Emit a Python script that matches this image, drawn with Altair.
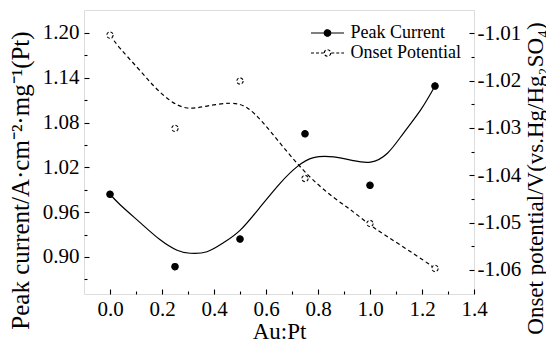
import altair as alt
import pandas as pd

# ---- data ----
ratio = [0.0, 0.25, 0.5, 0.75, 1.0, 1.25]
peak_current = [0.984, 0.887, 0.924, 1.065, 0.996, 1.129]
onset_potential = [-1.0104, -1.0301, -1.0201, -1.0407, -1.0502, -1.0597]

# smooth fitted curves
peak_fit_x = [0.0, 0.039, 0.116, 0.193, 0.258, 0.308, 0.373, 0.436, 0.501, 0.578,
              0.655, 0.720, 0.783, 0.860, 0.937, 1.002, 1.067, 1.129, 1.195, 1.25]
peak_fit_y = [0.984, 0.970, 0.946, 0.923, 0.909, 0.905, 0.907, 0.919, 0.936, 0.967,
              0.999, 1.021, 1.033, 1.034, 1.029, 1.027, 1.039, 1.066, 1.097, 1.129]
onset_fit_x = [0.0, 0.039, 0.104, 0.166, 0.231, 0.297, 0.373, 0.462, 0.528, 0.590,
               0.655, 0.720, 0.783, 0.860, 0.937, 1.013, 1.118, 1.222, 1.25]
onset_fit_y = [-1.0104, -1.0132, -1.0172, -1.0210, -1.0242, -1.0258, -1.0254, -1.0248,
               -1.0258, -1.0290, -1.0333, -1.0375, -1.0411, -1.0447, -1.0478, -1.0510,
               -1.0548, -1.0586, -1.0597]

series_names = ["Peak Current", "Onset Potential"]

x_major = [0.0, 0.2, 0.4, 0.6, 0.8, 1.0, 1.2, 1.4]
x_minor = [0.1, 0.3, 0.5, 0.7, 0.9, 1.1, 1.3]
left_major = [0.90, 0.96, 1.02, 1.08, 1.14, 1.20]
left_minor = [0.87, 0.93, 0.99, 1.05, 1.11, 1.17]
right_major = [-1.06, -1.05, -1.04, -1.03, -1.02, -1.01]
right_minor = [-1.055, -1.045, -1.035, -1.025, -1.015]

X_DOM = [-0.1, 1.4]
L_DOM = [0.8504, 1.2308]
R_DOM = [-1.0651, -1.0051]

FONT = "Liberation Serif"

peak_df = pd.DataFrame({"ratio": ratio, "value": peak_current, "series": series_names[0]})
onset_df = pd.DataFrame({"ratio": ratio, "value": onset_potential, "series": series_names[1]})
peak_fit = pd.DataFrame({"ratio": peak_fit_x, "value": peak_fit_y})
onset_fit = pd.DataFrame({"ratio": onset_fit_x, "value": onset_fit_y})

LEG_PATH = ("M-3.3,0H-0.75M0.75,0H3.3"
            "M0.65,0A0.65,0.65,0,1,1,-0.65,0A0.65,0.65,0,1,1,0.65,0Z")


def make_legend():
    return alt.Legend(title=None, orient="none", legendX=234.5, legendY=14,
                      symbolType=LEG_PATH, symbolSize=100,
                      symbolStrokeColor="black", symbolStrokeWidth=1.2,
                      labelFont=FONT, labelFontSize=18, labelColor="black",
                      labelOffset=14, rowPadding=2)


fill_enc = alt.Fill("series:N",
                    scale=alt.Scale(domain=series_names, range=["black", "white"]),
                    legend=make_legend())
dash_enc = alt.StrokeDash("series:N",
                          scale=alt.Scale(domain=series_names, range=[[1, 0], [3, 2]]),
                          legend=make_legend())


def xscale():
    return alt.Scale(domain=X_DOM, nice=False, zero=False)


main_x_axis = alt.Axis(orient="bottom", values=x_major, format=".1f", ticks=False, tickSize=0,
                       domain=False, grid=False, labelPadding=4, labelFlush=False,
                       labelFont=FONT, labelFontSize=21, labelColor="black",
                       title="Au:Pt", titleFont=FONT, titleFontSize=23,
                       titleFontWeight="normal", titleColor="black",
                       titleBaseline="alphabetic", titleY=44)

left_axis = alt.Axis(orient="left", values=left_major, format=".2f", ticks=False, tickSize=0,
                     domain=False, grid=False, labelPadding=5, labelFlush=False,
                     labelFont=FONT, labelFontSize=21, labelColor="black",
                     title="Peak current/A·cm⁻²·mg⁻¹(Pt)", titleFont=FONT, titleFontSize=25,
                     titleFontWeight="normal", titleColor="black",
                     titleBaseline="alphabetic", titleX=-56, titleY=170, titleAngle=270)

right_axis = alt.Axis(orient="right", values=right_major, ticks=False, tickSize=0,
                      labelExpr="'-' + format(abs(datum.value), '.2f')",
                      domain=False, grid=False, labelPadding=3, labelFlush=False,
                      labelFont=FONT, labelFontSize=21, labelColor="black",
                      title="Onset potential/V(vs.Hg/Hg₂SO₄)", titleFont=FONT, titleFontSize=23,
                      titleFontWeight="normal", titleColor="black",
                      titleBaseline="alphabetic", titleX=68, titleY=168, titleAngle=270)

# ---- peak current layer (left axis) ----
peak_line = alt.Chart(peak_fit).mark_line(color="black", strokeWidth=1.2,
                                          interpolate="natural").encode(
    x=alt.X("ratio:Q", scale=xscale(), axis=main_x_axis),
    y=alt.Y("value:Q", scale=alt.Scale(domain=L_DOM, nice=False, zero=False), axis=left_axis),
)
peak_pts = alt.Chart(peak_df).mark_point(filled=True, shape="circle", size=40, stroke="black",
                                         strokeWidth=1.2, opacity=1).encode(
    x=alt.X("ratio:Q", scale=xscale()),
    y=alt.Y("value:Q", scale=alt.Scale(domain=L_DOM, nice=False, zero=False)),
    fill=fill_enc,
    strokeDash=dash_enc,
)
peak_layer = alt.layer(peak_line, peak_pts)

# ---- onset potential layer (right axis) ----
onset_line = alt.Chart(onset_fit).mark_line(color="black", strokeWidth=1.2, strokeDash=[4, 3],
                                            interpolate="natural").encode(
    x=alt.X("ratio:Q", scale=xscale(), axis=None),
    y=alt.Y("value:Q", scale=alt.Scale(domain=R_DOM, nice=False, zero=False), axis=right_axis),
)
onset_pts = alt.Chart(onset_df).mark_point(filled=True, shape="circle", size=40, stroke="black",
                                           strokeWidth=1.1, opacity=1).encode(
    x=alt.X("ratio:Q", scale=xscale()),
    y=alt.Y("value:Q", scale=alt.Scale(domain=R_DOM, nice=False, zero=False)),
    fill=fill_enc,
    strokeDash=dash_enc,
)
onset_layer = alt.layer(onset_line, onset_pts)


# ---- inward tick axes ----
def tick_axis(orient, values, size, offset):
    return alt.Axis(orient=orient, values=values, ticks=True, tickSize=size, tickColor="black",
                    tickWidth=1.1, offset=offset, labels=False, domain=False, grid=False,
                    title=None)


def tick_layer(data, xvals, xsize, yorient, yvals, ysize, ydom):
    xax = tick_axis("bottom", xvals, xsize, -xsize) if xvals else None
    return alt.Chart(data).mark_point(opacity=0).encode(
        x=alt.X("ratio:Q", scale=xscale(), axis=xax),
        y=alt.Y("value:Q", scale=alt.Scale(domain=ydom, nice=False, zero=False),
                axis=tick_axis(yorient, yvals, ysize, -ysize)),
    )


t1 = tick_layer(peak_df, x_major, 5, "left", left_major, 5, L_DOM)
t2 = tick_layer(peak_df, x_minor, 3, "left", left_minor, 3, L_DOM)
t3 = tick_layer(onset_df, None, 0, "right", right_major, 5, R_DOM)
t4 = tick_layer(onset_df, None, 0, "right", right_minor, 3, R_DOM)

chart = alt.layer(peak_layer, onset_layer, t1, t2, t3, t4).resolve_scale(
    x="independent", y="independent"
).properties(
    width=390, height=284,
    autosize=alt.AutoSizeParams(type="none"),
    padding={"left": 76, "top": 2, "right": 72, "bottom": 48},
).configure_view(
    stroke="black", strokeWidth=1.5
).configure(background="white")

chart.save("out.html", embed_options={"renderer": "svg", "actions": False})
